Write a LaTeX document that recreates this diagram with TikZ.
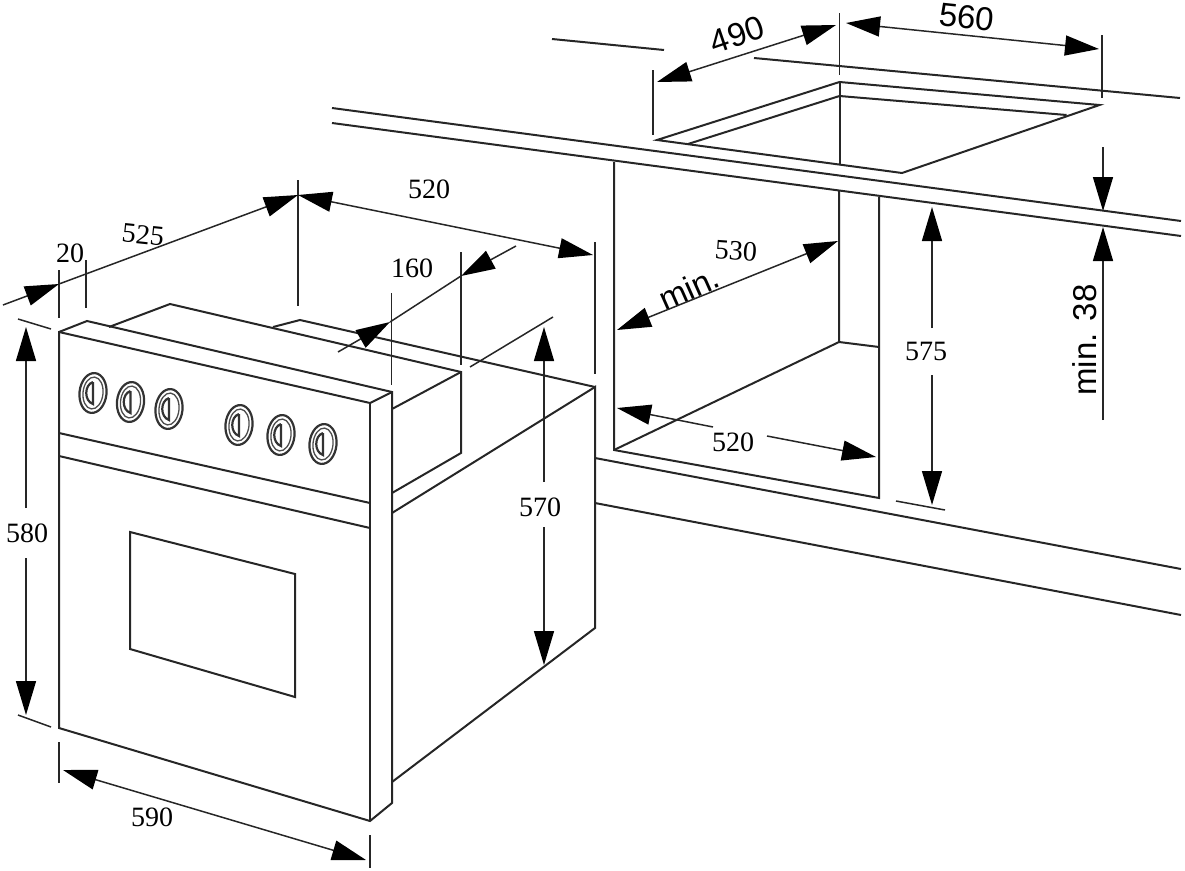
\documentclass[tikz,border=0pt]{standalone}
\usepackage{fontspec}
\setmainfont{Liberation Serif}
\newfontfamily\labelsans{Liberation Sans}
\usetikzlibrary{arrows.meta}
\tikzset{
	edge/.style={line width=2pt,color=black!85},
	dimline/.style={line width=1.5pt,color=black!85},
	dimboth/.style={dimline,{Triangle[length=34pt,width=20pt,color=black]}-{Triangle[length=34pt,width=20pt,color=black]}},
	dimend/.style={dimline,-{Triangle[length=34pt,width=20pt,color=black]}},
	serif/.style={font=\fontsize{28}{28}\selectfont,inner sep=1pt},
	sans/.style={font=\labelsans\fontsize{33}{33}\selectfont,inner sep=1pt},
	knobring/.style={line width=2.2pt,color=black!80},
	knobmark/.style={line width=1.3pt,color=black!70}
}
\newcommand{\knob}[2]{
	\draw[knobring,rotate around={-6:(#1,#2)}] (#1,#2) ellipse (13.5 and 20);
	\draw[knobmark,rotate around={-6:(#1,#2)}] (#1,#2) ellipse (10 and 16);
	\draw[knobring] (#1,#2-11) -- (#1,#2+11) .. controls (#1-9,#2+8) and (#1-9,#2-8) .. (#1,#2-11);
}
\begin{document}
\begin{tikzpicture}[x=1pt,y=-1pt]
\useasboundingbox (0,0) rectangle (1185,870);
% worktop
\draw[edge] (332,108) -- (1181,221);
\draw[edge] (332,123) -- (1181,236);
\draw[edge] (552,39) -- (664,50);
\draw[edge] (754,58) -- (1180,98);
% cut-out
\draw[edge] (657,140) -- (839.5,82) -- (1099.5,105) -- (902,173) -- cycle;
\draw[edge] (688,144) -- (839.5,96) -- (1066.5,115);
\draw[edge] (839.5,82) -- (839.5,165);
% cabinet
\draw[edge] (614,162) -- (614,450) -- (879,498) -- (879,197);
\draw[edge] (839,190) -- (839,342) -- (879,347);
\draw[edge] (614,450) -- (839,342);
\draw[edge] (595,458) -- (1181,569);
\draw[edge] (595,503) -- (1181,615);
% oven body
\draw[edge] (392,513) -- (595,387) -- (595,628) -- (392,782);
\draw[edge] (273,327) -- (300,320) -- (595,387);
\draw[edge] (109,327) -- (170,304) -- (461,372) -- (461,453) -- (392,493);
\draw[edge] (392,409) -- (461,372);
% oven front
\draw[edge] (59,332) -- (87,321) -- (392,392) -- (392,803) -- (370,821) -- (59,728) -- cycle;
\draw[edge] (59,332) -- (370,403) -- (392,392);
\draw[edge] (370,403) -- (370,821);
\draw[edge] (59,433) -- (370,503);
\draw[edge] (59,456) -- (370,528);
\draw[edge] (130,532) -- (295,574) -- (295,697) -- (130,649) -- cycle;
% knobs
\foreach \kx/\ky in {93/393,130.5/402,169/409,239/425,281/435,323/444}
	\knob{\kx}{\ky};
% extension lines
\draw[dimline] (59,270) -- (59,318);
\draw[dimline] (86,260) -- (86,308);
\draw[dimline] (298,180) -- (298,306);
\draw[dimline] (595,242) -- (595,374);
\draw[dimline] (391.5,293) -- (391.5,385);
\draw[dimline] (461,252) -- (461,365);
\draw[dimline] (470,367) -- (553,317);
\draw[dimline] (18,319) -- (51,329);
\draw[dimline] (18,715) -- (51,727);
\draw[dimline] (59,742) -- (59,783);
\draw[dimline] (370,835) -- (370,868);
\draw[dimline] (653,70) -- (653,135);
\draw[dimline] (839.5,13) -- (839.5,75);
\draw[dimline] (1102,35) -- (1102,98);
\draw[dimline] (896,501) -- (945,510);
% dimensions
\coordinate (a1) at (3,305);
\coordinate (a2) at (59,284);
\coordinate (a3) at (298,195);
\coordinate (a4) at (593,255);
\draw[dimend] (a1) -- (a2);
\draw[dimend] (a2) -- (a3);
\draw[dimboth] (a3) -- (a4);
\node[serif,rotate=-6] (l525) at (143,235) {525};
\node[serif] (l20) at (70,253) {20};
\node[serif] (l520a) at (429,189) {520};
\node[serif] (l160) at (412,268) {160};
\draw[dimend] (338,352) -- (390,322);
\draw[dimline] (390,322) -- (461,276);
\draw[dimend] (516,246) -- (461,276);
\node[serif] (l570) at (540,507) {570};
\draw[dimend] (544,482) -- (544,327);
\draw[dimend] (544,527) -- (544,665);
\node[serif] (l580) at (27,533) {580};
\draw[dimend] (26,508) -- (26,327);
\draw[dimend] (26,558) -- (26,715);
\node[serif] (l590) at (152,817) {590};
\draw[dimboth] (63,770) -- (366,860);
\node[sans,rotate=19] (l490) at (737,35) {490};
\draw[dimboth] (657,82) -- (836,25);
\node[sans,rotate=-6] (l560) at (967,17) {560};
\draw[dimboth] (846,23) -- (1099,49);
\draw[dimend] (1103,147) -- (1103,211);
\draw[dimend] (1103,420) -- (1103,227);
\node[sans,rotate=90] (lmin38) at (1085,340) {min. 38};
\node[sans,rotate=24] (lmin) at (689,288) {min.};
\node[serif,rotate=-4] (l530) at (736,251) {530};
\draw[dimboth] (617,330) -- (838,241);
\node[serif] (l575) at (926,351) {575};
\draw[dimend] (932,328) -- (932,207);
\draw[dimend] (932,375) -- (932,505);
\node[serif] (l520b) at (733,442) {520};
\draw[dimend] (713,427) -- (617,408);
\draw[dimend] (767,436) -- (876,457);
\end{tikzpicture}
\end{document}
